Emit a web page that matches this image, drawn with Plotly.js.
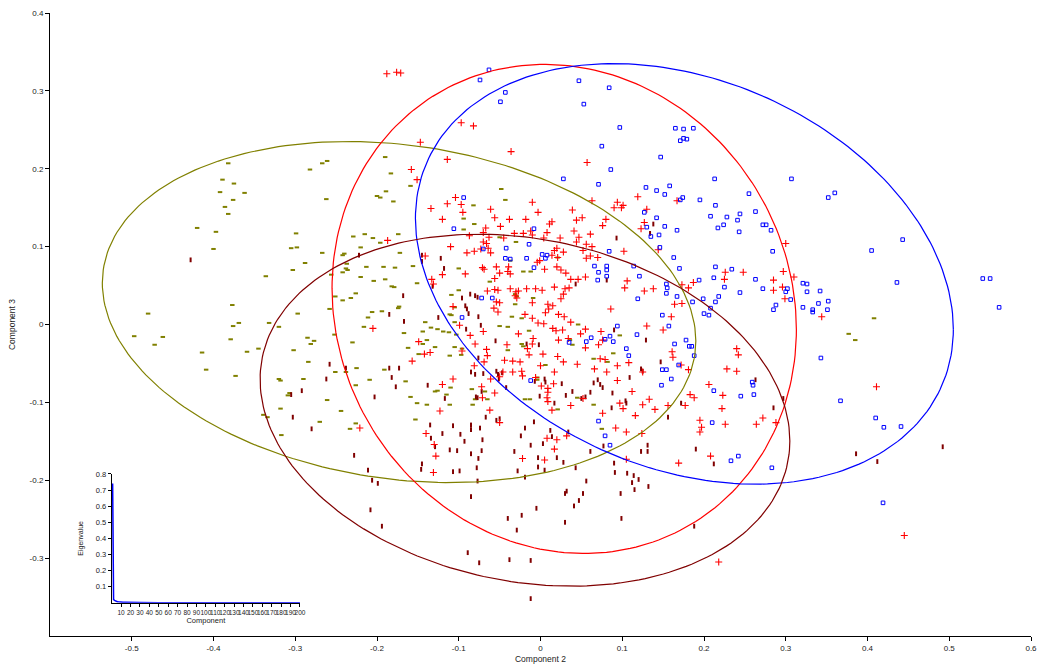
<!DOCTYPE html>
<html>
<head>
<meta charset="utf-8">
<script src="https://cdn.plot.ly/plotly-3.0.1.min.js"></script>
<style>html,body{margin:0;padding:0;background:#fff;}#chart{width:1039px;height:668px;}</style>
</head>
<body>
<div id="chart"></div>
<script>
// ---- Group scores (Component 2, Component 3) ----
const olivePoints = [
[-0.382,0.207],[-0.389,0.186],[-0.375,0.181],[-0.392,0.170],[-0.362,0.169],[-0.376,0.160],[-0.386,0.151],[-0.382,0.142],[-0.420,0.124],[-0.397,0.119],
[-0.282,0.199],[-0.267,0.207],[-0.261,0.210],[-0.262,0.161],[-0.299,0.117],[-0.190,0.215],[-0.183,0.194],[-0.189,0.171],[-0.200,0.165],[-0.196,0.163],
[-0.180,0.158],[-0.159,0.178],[-0.229,0.113],[-0.215,0.116],[-0.205,0.111],[-0.196,0.105],[-0.174,0.116],
[-0.048,0.174],[-0.043,0.160],[-0.082,0.153],[-0.094,0.136],[-0.081,0.129],[-0.094,0.122],[-0.050,0.112],[-0.030,0.106],
[-0.400,0.097],[-0.305,0.098],[-0.298,0.099],[-0.267,0.092],[-0.288,0.079],[-0.303,0.070],[-0.336,0.062],
[-0.240,0.091],[-0.242,0.089],[-0.237,0.078],[-0.238,0.072],[-0.236,0.070],[-0.242,0.067],[-0.256,0.064],
[-0.220,0.099],[-0.213,0.074],[-0.192,0.074],[-0.178,0.073],[-0.156,0.075],[-0.172,0.092],
[-0.220,0.061],[-0.204,0.056],[-0.190,0.058],[-0.182,0.049],[-0.179,0.048],[-0.151,0.053],
[-0.251,0.036],[-0.242,0.031],[-0.232,0.034],[-0.226,0.040],
[-0.377,0.025],[-0.480,0.014],[-0.297,0.014],[-0.258,0.020],[-0.206,0.016],[-0.194,0.017],[-0.174,0.021],[-0.173,0.023],
[-0.211,0.009],[-0.216,-0.003],[-0.369,0.002],[-0.376,-0.002],[-0.332,0.002],[-0.320,-0.003],
[-0.497,-0.015],[-0.462,-0.016],[-0.472,-0.026],[-0.379,-0.019],[-0.285,-0.017],[-0.277,-0.021],[-0.281,-0.025],[-0.252,-0.013],[-0.230,-0.023],[-0.167,-0.011],
[-0.414,-0.036],[-0.359,-0.035],[-0.345,-0.031],[-0.302,-0.033],[-0.162,-0.030],[-0.149,-0.038],
[-0.284,-0.048],[-0.409,-0.058],[-0.373,-0.066],[-0.251,-0.061],[-0.238,-0.061],[-0.225,-0.056],[-0.191,-0.058],
[-0.320,-0.070],[-0.318,-0.072],[-0.290,-0.070],[-0.209,-0.071],[-0.165,-0.073],[-0.226,-0.078],
[-0.307,-0.088],[-0.309,-0.091],[-0.261,-0.097],[-0.159,-0.093],[-0.151,-0.101],
[-0.318,-0.108],[-0.244,-0.111],[-0.339,-0.116],[-0.334,-0.119],[-0.270,-0.125],[-0.226,-0.127],[-0.233,-0.134],[-0.153,-0.122],
[-0.100,0.072],[-0.037,0.082],[-0.021,0.068],[-0.012,0.068],[0.021,0.086],[-0.062,0.055],[-0.100,0.044],[-0.109,0.038],[-0.105,0.022],
[-0.031,0.039],[-0.029,0.036],[-0.009,0.034],[-0.031,0.026],[-0.111,0.013],[-0.109,0.012],[-0.035,0.010],[-0.023,0.008],
[-0.141,0.003],[-0.134,-0.004],[-0.126,-0.006],[-0.119,-0.009],[-0.112,-0.010],[-0.105,0.003],[-0.050,-0.002],[-0.040,-0.003],
[-0.144,-0.009],[-0.103,-0.013],[-0.139,-0.020],[-0.144,-0.025],[-0.129,-0.029],[-0.105,-0.029],[-0.096,-0.031],[-0.097,-0.039],[-0.111,-0.040],
[-0.040,-0.033],[-0.023,-0.025],[-0.021,-0.028],[-0.014,-0.008],
[0.036,-0.020],[0.039,-0.026],[0.046,0.000],[0.097,-0.014],[0.089,-0.037],[0.065,-0.044],[0.082,-0.048],[0.006,-0.052],[-0.004,-0.068],[-0.004,-0.071],
[-0.129,-0.086],[-0.126,-0.085],[-0.110,-0.081],[-0.084,-0.083],[-0.068,-0.086],[-0.115,-0.090],[-0.080,-0.096],[-0.065,-0.096],
[-0.139,-0.103],[-0.111,-0.103],[-0.083,-0.103],[-0.019,-0.096],[-0.013,-0.096],[0.045,-0.094],[0.065,-0.103],[0.021,-0.109],[0.075,-0.134],
[0.408,0.008],[0.377,-0.012],[0.385,-0.020],[-0.317,-0.142]
];

const maroonPoints = [
[0.138,0.129],[0.093,0.111],[0.134,0.117],
[-0.428,0.083],[-0.222,0.089],[-0.168,0.037],[-0.185,0.013],[-0.167,0.004],[-0.258,-0.051],[-0.238,-0.056],[-0.262,-0.070],
[-0.185,-0.056],[-0.173,-0.056],[-0.182,-0.068],[-0.177,-0.080],[-0.292,-0.085],[-0.305,-0.090],[-0.203,-0.093],[-0.303,-0.119],[-0.280,-0.134],
[-0.145,0.089],[-0.145,0.081],[-0.122,0.085],[-0.118,0.072],[-0.132,0.049],[-0.096,0.034],[-0.086,0.039],[-0.080,0.037],[-0.077,0.035],
[-0.092,0.024],[-0.090,0.020],[-0.088,0.014],[-0.076,0.010],[-0.125,0.009],[-0.091,-0.006],[-0.073,-0.001],[-0.055,-0.021],[-0.017,-0.025],[-0.002,-0.026],
[0.090,-0.007],[0.129,-0.020],[0.081,0.057],[0.043,0.052],[0.147,-0.048],
[-0.076,-0.043],[-0.085,-0.061],[-0.080,-0.064],[-0.070,-0.063],[-0.054,-0.060],[-0.052,-0.064],[-0.047,-0.062],[-0.051,-0.070],[-0.042,-0.081],
[-0.138,-0.078],[-0.117,-0.095],[-0.072,-0.086],[-0.079,-0.093],[-0.077,-0.094],
[-0.007,-0.073],[0.005,-0.070],[0.006,-0.074],[0.026,-0.076],[-0.001,-0.092],[0.017,-0.101],[0.031,-0.091],[0.039,-0.086],[0.050,-0.095],[0.055,-0.093],
[0.061,-0.087],[0.065,-0.075],[0.070,-0.071],[0.073,-0.077],[0.076,-0.081],[0.088,-0.088],
[0.109,-0.068],[0.104,-0.098],[0.105,-0.101],[0.087,-0.107],[0.123,-0.057],[0.125,-0.060],[0.156,-0.119],[0.172,-0.101],
[-0.067,-0.119],[-0.054,-0.123],[-0.050,-0.121],[-0.135,-0.129],[-0.107,-0.130],[-0.085,-0.129],[-0.085,-0.135],[-0.074,-0.133],
[-0.019,-0.133],[-0.008,-0.125],[0.012,-0.136],[0.034,-0.138],[-0.120,-0.140],
[0.263,-0.071],[0.297,-0.095],[0.285,-0.107],
[-0.228,-0.168],[-0.211,-0.187],[-0.206,-0.200],[-0.199,-0.204],[-0.208,-0.238],[-0.194,-0.259],
[-0.134,-0.146],[-0.145,-0.179],[-0.146,-0.186],[-0.129,-0.157],[-0.111,-0.161],[-0.102,-0.162],[-0.098,-0.141],[-0.093,-0.150],
[-0.071,-0.148],[-0.085,-0.166],[-0.072,-0.162],[-0.076,-0.172],[-0.107,-0.189],[-0.099,-0.188],[-0.078,-0.184],[-0.077,-0.201],[-0.085,-0.221],
[-0.024,-0.143],[-0.032,-0.163],[-0.012,-0.155],[-0.028,-0.188],[-0.019,-0.196],[-0.003,-0.171],[-0.003,-0.183],[0.005,-0.187],[0.003,-0.153],
[0.014,-0.144],[0.020,-0.171],[0.028,-0.177],[0.043,-0.184],[0.056,-0.201],[0.052,-0.217],[0.032,-0.214],[0.030,-0.217],[0.047,-0.226],[0.041,-0.233],
[-0.005,-0.236],[-0.023,-0.245],[-0.040,-0.249],[-0.029,-0.264],[0.030,-0.254],
[0.077,-0.156],[0.061,-0.163],[0.090,-0.178],[0.091,-0.190],[0.106,-0.191],[0.114,-0.194],[0.120,-0.199],[0.112,-0.203],[0.115,-0.212],[0.098,-0.217],
[0.132,-0.208],[0.131,-0.155],[0.131,-0.163],[0.123,-0.163],[0.099,-0.249],[0.190,-0.160],[0.212,-0.179],[0.188,-0.259],
[-0.089,-0.293],[-0.075,-0.306],[-0.038,-0.302],[-0.012,-0.303],[-0.012,-0.352],
[0.386,-0.166],[0.412,-0.176],[0.492,-0.157]
];

const redPoints = [
[-0.188,0.322],[-0.176,0.324],[-0.171,0.323],[-0.158,0.199],[-0.151,0.186],[-0.187,0.108],[-0.147,0.234],
[-0.097,0.259],[-0.082,0.255],[-0.036,0.222],[-0.114,0.212],[0.057,0.208],
[-0.104,0.163],[-0.114,0.155],[-0.097,0.154],[-0.134,0.149],[-0.095,0.144],[-0.061,0.148],[-0.120,0.135],[-0.056,0.137],[-0.038,0.135],[-0.018,0.135],
[-0.010,0.157],[-0.003,0.144],[-0.049,0.126],[-0.067,0.124],[-0.070,0.118],[-0.087,0.114],[-0.063,0.112],[-0.045,0.111],[-0.032,0.117],[-0.021,0.117],
[-0.012,0.120],[-0.010,0.115],[0.004,0.111],[0.008,0.118],[0.014,0.132],[0.011,0.129],[0.024,0.111],[0.041,0.120],[0.044,0.134],[0.051,0.137],
[0.047,0.112],[0.039,0.147],[0.063,0.159],[0.061,0.116],[0.080,0.135],[0.076,0.127],[0.094,0.157],[0.090,0.150],[0.099,0.150],[0.101,0.153],
[0.119,0.164],[0.130,0.148],[0.127,0.131],[0.123,0.123],[0.167,0.159],[0.044,0.106],[0.056,0.103],[-0.070,0.106],[-0.066,0.104],
[-0.205,-0.005],[-0.149,-0.022],[-0.157,-0.047],[-0.221,-0.133],
[-0.110,0.100],[-0.090,0.092],[-0.081,0.094],[-0.073,0.097],[-0.064,0.098],[-0.061,0.092],[-0.141,0.088],[-0.004,0.080],[-0.001,0.082],
[0.017,0.095],[0.020,0.098],[0.014,0.089],[0.021,0.086],[0.028,0.093],[0.052,0.095],[0.063,0.100],[0.056,0.085],[0.061,0.088],[0.070,0.086],
[0.102,0.094],[0.144,0.096],[-0.120,0.064],[-0.133,0.058],[-0.092,0.065],[-0.071,0.073],[-0.069,0.071],[-0.054,0.074],[-0.039,0.074],
[-0.050,0.066],[-0.040,0.068],[-0.037,0.065],[-0.056,0.059],[0.005,0.071],[0.020,0.074],[0.025,0.070],[0.031,0.066],[0.037,0.058],[0.046,0.058],
[0.055,0.061],[0.103,0.047],[0.106,0.056],[0.127,0.043],[0.138,0.046],[0.226,0.067],[0.225,0.058],[0.248,0.067],[0.187,0.054],[0.181,0.047],
[0.173,0.051],[0.164,0.026],[0.173,0.027],[-0.131,0.052],[-0.065,0.043],[-0.056,0.045],[-0.052,0.044],[-0.037,0.046],[-0.030,0.042],[-0.027,0.043],
[-0.017,0.046],[-0.006,0.046],[0.002,0.044],[0.017,0.048],[0.030,0.046],[0.028,0.039],[0.035,0.047],[-0.031,0.037],[-0.029,0.034],[-0.107,0.023],
[-0.054,0.029],[-0.050,0.028],[-0.057,0.021],[-0.052,0.016],[-0.010,0.028],[0.009,0.026],[0.015,0.024],[0.010,0.020],[0.006,0.015],[0.025,0.033],
[0.086,0.020],[-0.019,0.013],[-0.010,0.008],[0.022,0.013],[0.029,0.010],[0.037,0.003],[-0.003,0.002],[0.004,0.001],[-0.099,-0.001],[-0.070,-0.009],
[-0.086,-0.014],[-0.027,-0.012],[-0.009,-0.018],[0.015,-0.005],[0.019,-0.008],[0.027,-0.007],[0.022,-0.020],[0.034,-0.018],[0.049,-0.012],[0.055,-0.006],
[0.074,-0.009],[0.076,-0.020],[0.071,-0.026],[0.055,-0.030],[0.130,-0.002],[0.150,-0.007],[0.160,0.010],[-0.080,-0.025],[-0.135,-0.036],[-0.142,-0.038],
[-0.096,-0.034],[-0.066,-0.032],[-0.041,-0.026],[-0.010,-0.025],[-0.016,-0.031],[-0.014,-0.039],[-0.065,-0.040],[-0.044,-0.046],[-0.034,-0.047],[-0.025,-0.048],
[0.003,-0.038],[0.021,-0.041],[0.028,-0.048],[0.073,-0.044],[0.079,-0.045],[0.094,-0.053],[0.066,-0.057],[0.081,-0.061],[0.108,-0.049],[0.045,-0.051],
[0.161,-0.035],[0.162,-0.042],[0.240,-0.031],[0.242,-0.039],[0.172,-0.052],[0.181,-0.058],[0.228,-0.057],[0.240,-0.060],[0.125,-0.061],[-0.069,-0.048],
[-0.081,-0.053],[-0.046,-0.061],[-0.034,-0.061],[-0.023,-0.060],[0.000,-0.053],[0.017,-0.061],[-0.061,-0.070],[-0.107,-0.070],[-0.050,-0.067],[-0.022,-0.066],
[-0.006,-0.068],[-0.120,-0.077],[-0.072,-0.080],[-0.056,-0.088],[-0.071,-0.094],[0.001,-0.079],[0.009,-0.082],[0.009,-0.087],[0.016,-0.076],[0.094,-0.072],
[0.112,-0.086],[0.008,-0.094],[0.009,-0.099],[0.052,-0.095],[0.014,-0.110],[0.037,-0.104],[0.097,-0.101],[0.101,-0.108],[0.076,-0.114],[-0.062,-0.110],
[-0.123,-0.111],[-0.050,-0.126],[0.125,-0.103],[0.133,-0.096],[0.140,-0.109],[0.116,-0.117],[0.156,-0.104],[0.177,-0.104],[0.206,-0.077],[0.183,-0.090],
[0.188,-0.094],[0.223,-0.091],[0.222,-0.108],[0.195,-0.123],[0.197,-0.132],[0.226,-0.128],[0.092,-0.133],[0.105,-0.138],[0.124,-0.140],[0.195,-0.138],
[0.297,0.068],[0.285,0.057],[0.310,0.061],[0.285,0.044],[0.296,0.048],[0.299,0.033],[0.344,0.010],[0.411,-0.080],[0.272,-0.120],[0.264,-0.128],
[0.288,-0.126],[0.300,0.104],
[-0.140,-0.140],[-0.130,-0.154],[-0.128,-0.169],[-0.131,-0.190],[-0.022,-0.172],[0.008,-0.146],[0.020,-0.148],[0.017,-0.160],[0.005,-0.174],[0.032,-0.143],
[0.105,-0.173],[0.208,-0.169],[0.169,-0.178],[0.218,-0.305],[0.445,-0.271]
];

const bluePoints = [
[-0.063,0.327],[-0.074,0.314],[-0.043,0.298],[-0.049,0.286],[0.047,0.313],[0.084,0.304],[0.053,0.283],[0.097,0.253],[0.075,0.229],[0.086,0.199],
[0.028,0.187],[0.071,0.180],[0.165,0.252],[0.175,0.251],[0.187,0.252],[0.171,0.236],[0.175,0.239],[0.179,0.238],[0.147,0.215],[0.158,0.178],
[0.129,0.176],[0.142,0.172],[0.152,0.167],[0.174,0.163],[0.171,0.160],[0.195,0.160],[0.213,0.187],[0.214,0.153],[0.255,0.168],[-0.094,0.163],
[-0.106,0.123],[-0.008,0.123],[0.127,0.144],[0.142,0.137],[0.130,0.125],[0.152,0.126],[0.167,0.121],[0.145,0.115],[0.135,0.113],[0.208,0.139],
[0.228,0.138],[0.241,0.134],[0.244,0.142],[0.224,0.128],[0.217,0.124],[0.243,0.119],[-0.014,0.103],[0.307,0.187],[0.352,0.163],[0.360,0.169],
[0.263,0.145],[0.272,0.128],[0.276,0.128],[0.282,0.121],[0.443,0.109],[-0.070,0.097],[-0.042,0.098],[-0.043,0.085],[-0.037,0.084],[-0.017,0.085],
[0.002,0.090],[0.008,0.089],[0.006,0.085],[-0.008,0.073],[0.084,0.094],[0.066,0.075],[0.081,0.075],[0.081,0.070],[0.071,0.067],[0.081,0.062],
[0.070,0.057],[0.114,0.075],[0.121,0.062],[0.146,0.099],[0.163,0.086],[0.170,0.072],[0.214,0.074],[0.234,0.071],[0.212,0.060],[0.194,0.057],
[0.154,0.052],[0.155,0.047],[0.154,0.040],[0.225,0.048],[0.244,0.041],[0.167,0.036],[0.218,0.036],[0.199,0.033],[0.186,0.029],[0.214,0.029],
[0.208,0.021],[0.200,0.014],[0.206,0.012],[0.149,0.012],[0.119,0.033],[-0.072,0.034],[-0.059,0.034],[-0.096,0.009],[0.157,-0.002],[0.094,-0.002],
[0.118,-0.013],[0.085,-0.015],[0.079,-0.019],[0.062,-0.017],[0.056,-0.022],[0.089,-0.022],[0.035,-0.023],[0.178,-0.020],[0.164,-0.025],[0.182,-0.028],
[0.185,-0.028],[0.105,-0.031],[0.188,-0.040],[0.108,-0.040],[0.169,-0.052],[0.149,-0.058],[0.154,-0.058],[0.160,-0.070],[-0.012,-0.072],[0.148,-0.078],
[0.212,-0.085],[0.245,-0.092],[0.071,-0.124],[0.210,-0.126],[0.284,0.094],[0.405,0.095],[0.263,0.058],[0.272,0.046],[0.302,0.046],[0.300,0.042],
[0.321,0.053],[0.326,0.052],[0.326,0.042],[0.342,0.043],[0.306,0.032],[0.288,0.025],[0.285,0.019],[0.321,0.022],[0.340,0.027],[0.352,0.030],
[0.351,0.019],[0.333,0.019],[0.333,0.016],[0.436,0.054],[0.541,0.059],[0.550,0.059],[0.561,0.022],[0.343,-0.043],[0.259,-0.074],[0.260,-0.078],
[0.261,-0.090],[0.367,-0.098],[0.410,-0.120],[0.420,-0.132],[0.441,-0.131],[0.079,-0.143],[0.085,-0.155],[0.233,-0.175],[0.242,-0.169],[0.283,-0.184],
[0.419,-0.229]
];

// ---- 95% ellipses: centre, half-width, half-height, correlation ----
const ellipseGroups = ['olive', 'red', 'blue', 'maroon'];
const ellipseCx = [-0.173, 0.029, 0.176, -0.019];
const ellipseCy = [0.016, 0.020, 0.065, -0.110];
const ellipseW  = [0.363, 0.284, 0.329, 0.324];
const ellipseH  = [0.219, 0.314, 0.270, 0.226];
const ellipseR  = [-0.17, -0.085, -0.264, -0.175];

// ---- Scree plot (inset) ----
const screeComponent = [1, 2, 3, 4, 5, 6, 7, 8, 9, 10, 12, 15, 20, 30, 50, 100, 150, 200];
const screeEigenvalue = [0.74, 0.02, 0.015, 0.011, 0.009, 0.007, 0.006, 0.005, 0.004, 0.004, 0.003, 0.003, 0.002, 0.002, 0.001, 0.001, 0.001, 0.001];

// ---- Axis ticks ----
const xTicks = [-0.5, -0.4, -0.3, -0.2, -0.1, 0, 0.1, 0.2, 0.3, 0.4, 0.5, 0.6];
const xTickText = ['-0.5', '-0.4', '-0.3', '-0.2', '-0.1', '0', '0.1', '0.2', '0.3', '0.4', '0.5', '0.6'];
const yTicks = [-0.3, -0.2, -0.1, 0, 0.1, 0.2, 0.3, 0.4];
const yTickText = ['-0.3', '-0.2', '-0.1', '0', '0.1', '0.2', '0.3', '0.4'];
const screeXTicks = [10,20,30,40,50,60,70,80,90,100,110,120,130,140,150,160,170,180,190,200];
const screeYTicks = [0.1,0.2,0.3,0.4,0.5,0.6,0.7,0.8];

const colors = {olive: '#808000', red: '#FF0000', blue: '#0000FF', maroon: '#800000'};

function pts(arr, k) { return arr.map(p => p[k]); }

const traces = [];
traces.push({type: 'scatter', mode: 'markers', x: pts(olivePoints, 0), y: pts(olivePoints, 1),
  marker: {symbol: 'line-ew', size: 3.2, color: colors.olive, line: {color: colors.olive, width: 2}}, hoverinfo: 'skip'});
traces.push({type: 'scatter', mode: 'markers', x: pts(maroonPoints, 0), y: pts(maroonPoints, 1),
  marker: {symbol: 'line-ns', size: 3.4, color: colors.maroon, line: {color: colors.maroon, width: 2}}, hoverinfo: 'skip'});
traces.push({type: 'scatter', mode: 'markers', x: pts(redPoints, 0), y: pts(redPoints, 1),
  marker: {symbol: 'cross-thin', size: 5, color: colors.red, line: {color: colors.red, width: 1.1}}, hoverinfo: 'skip'});
traces.push({type: 'scatter', mode: 'markers', x: pts(bluePoints, 0), y: pts(bluePoints, 1),
  marker: {symbol: 'square-open', size: 3.6, color: colors.blue, line: {color: colors.blue, width: 1}}, hoverinfo: 'skip'});

for (let i = 0; i < ellipseGroups.length; i++) {
  const ex = [], ey = [];
  const s = Math.sqrt(1 - ellipseR[i] * ellipseR[i]);
  for (let k = 0; k <= 240; k++) {
    const t = 2 * Math.PI * k / 240;
    ex.push(ellipseCx[i] + ellipseW[i] * Math.cos(t));
    ey.push(ellipseCy[i] + ellipseH[i] * (ellipseR[i] * Math.cos(t) + s * Math.sin(t)));
  }
  traces.push({type: 'scatter', mode: 'lines', x: ex, y: ey,
    line: {color: colors[ellipseGroups[i]], width: 1.2}, hoverinfo: 'skip'});
}

traces.push({type: 'scatter', mode: 'lines', x: screeComponent, y: screeEigenvalue,
  xaxis: 'x2', yaxis: 'y2', line: {color: '#0000FF', width: 1.5}, hoverinfo: 'skip'});

const font = 'Liberation Sans, Arial, sans-serif';
const layout = {
  width: 1039, height: 668,
  margin: {l: 50, r: 8, t: 13, b: 32},
  paper_bgcolor: '#fff', plot_bgcolor: 'rgba(0,0,0,0)',
  showlegend: false,
  font: {family: font, color: '#222'},
  xaxis: {
    range: [-0.6, 0.6], tickmode: 'array', tickvals: xTicks, ticktext: xTickText,
    ticks: 'outside', ticklen: 4, tickwidth: 1, tickcolor: '#000',
    showline: true, linecolor: '#000', linewidth: 1, showgrid: false, zeroline: false,
    tickfont: {size: 8, family: font, color: '#222'},
    title: {text: 'Component 2', font: {size: 8.5, family: font, color: '#222'}, standoff: 4},
    automargin: false
  },
  yaxis: {
    range: [-0.4, 0.4], tickmode: 'array', tickvals: yTicks, ticktext: yTickText,
    ticks: 'outside', ticklen: 4, tickwidth: 1, tickcolor: '#000',
    showline: true, linecolor: '#000', linewidth: 1, showgrid: false, zeroline: false,
    tickfont: {size: 8, family: font, color: '#222'},
    title: {text: 'Component 3', font: {size: 8.5, family: font, color: '#222'}, standoff: 12},
    automargin: false
  },
  xaxis2: {
    domain: [0.0629, 0.2548], anchor: 'y2', range: [0, 200],
    tickmode: 'array', tickvals: screeXTicks, tickangle: 0,
    ticks: 'outside', ticklen: 3, tickwidth: 1, tickcolor: '#000',
    showline: true, linecolor: '#000', linewidth: 1, showgrid: false, zeroline: false,
    tickfont: {size: 6.5, family: font, color: '#222'},
    title: {text: 'Component', font: {size: 7.5, family: font, color: '#222'}, standoff: 3},
    automargin: false
  },
  yaxis2: {
    domain: [0.0533, 0.2602], anchor: 'x2', range: [0, 0.8],
    tickmode: 'array', tickvals: screeYTicks, ticktext: screeYTicks.map(v => v.toFixed(1)),
    ticks: 'outside', ticklen: 3, tickwidth: 1, tickcolor: '#000',
    showline: true, linecolor: '#000', linewidth: 1, showgrid: false, zeroline: false,
    tickfont: {size: 7.5, family: font, color: '#222'},
    title: {text: 'Eigenvalue', font: {size: 7, family: font, color: '#222'}, standoff: 11},
    automargin: false
  }
};

Plotly.newPlot('chart', traces, layout, {displayModeBar: false, staticPlot: true});
</script>
</body>
</html>
